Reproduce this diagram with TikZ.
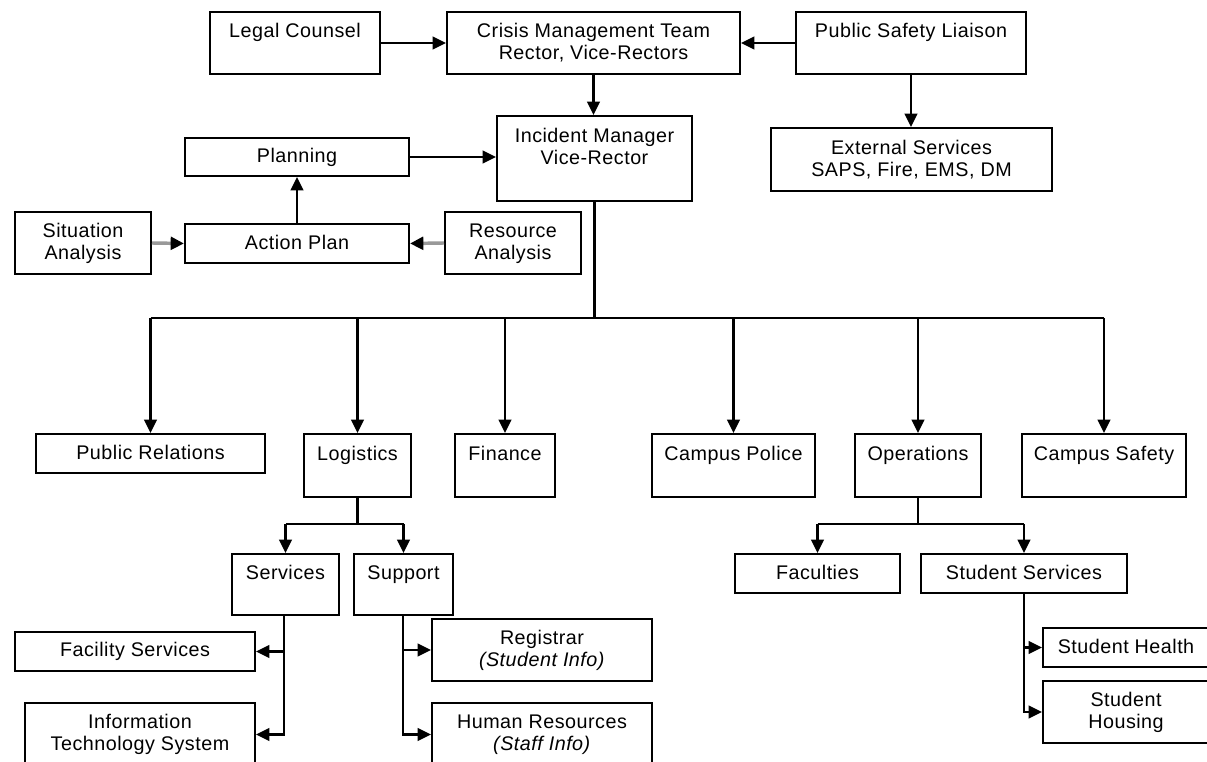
\documentclass[tikz,border=0pt]{standalone}
\usepackage{fontspec}
\setmainfont[LetterSpace=2.5]{Liberation Sans}
\usetikzlibrary{arrows.meta}
\newcommand\lstrut{\rule[-2.7pt]{0pt}{13.8pt}}
\begin{document}
\begin{tikzpicture}[x=0.75pt,y=-0.75pt,
  box/.style={draw=black, line width=1.5pt, rectangle, inner sep=0pt, align=center,
    font=\fontsize{14.8pt}{16.5pt}\selectfont},
  sz/.style 2 args={minimum width=#1*0.75pt, minimum height=#2*0.75pt},
  conn/.style={draw=black, line width=1.6pt},
  arr/.style={conn, -{Triangle[length=10pt,width=9.5pt]}},
  garr/.style={draw=black!40, line width=2.6pt, -{Triangle[length=10pt,width=9.5pt,color=black,fill=black]}}
]
\useasboundingbox (0,0) rectangle (1207,762);
\fill[white] (0,0) rectangle (1207,762);
\clip (0,0) rectangle (1207,762);

% top row
\node[box, sz={170}{62}] (legal) at (295,43) {\lstrut Legal Counsel\\\lstrut};
\node[box, sz={293}{62}] (crisis) at (593.5,43) {\lstrut Crisis Management Team\\\lstrut Rector, Vice-Rectors};
\node[box, sz={230}{62}] (psl) at (911,43) {\lstrut Public Safety Liaison\\\lstrut};
\node[box, sz={195}{85}] (incident) at (594.5,158.5) {\lstrut Incident Manager\\\lstrut Vice-Rector\\\lstrut};
\node[box, sz={281}{63}] (external) at (911.5,159.5) {\lstrut External Services\\\lstrut SAPS, Fire, EMS, DM};
\node[box, sz={224}{38}] (planning) at (297,157) {\lstrut Planning};
\node[box, sz={224}{39}] (action) at (297,243.5) {\lstrut Action Plan};
\node[box, sz={136}{62}] (situation) at (83,243) {\lstrut Situation\\\lstrut Analysis};
\node[box, sz={136}{62}] (resource) at (513,243) {\lstrut Resource\\\lstrut Analysis};

% second level
\node[box, sz={229}{39}] (pr) at (150.5,453.5) {\lstrut Public Relations};
\node[box, sz={107}{63}] (logistics) at (357.5,465.5) {\lstrut Logistics\\\lstrut};
\node[box, sz={100}{63}] (finance) at (505,465.5) {\lstrut Finance\\\lstrut};
\node[box, sz={163}{63}] (police) at (733.5,465.5) {\lstrut Campus Police\\\lstrut};
\node[box, sz={126}{63}] (operations) at (918,465.5) {\lstrut Operations\\\lstrut};
\node[box, sz={164}{63}] (safety) at (1104,465.5) {\lstrut Campus Safety\\\lstrut};

% third level
\node[box, sz={107}{61}] (services) at (285.5,584.5) {\lstrut Services\\\lstrut};
\node[box, sz={99}{61}] (support) at (403.5,584.5) {\lstrut Support\\\lstrut};
\node[box, sz={165}{39}] (faculties) at (817.5,573.5) {\lstrut Faculties};
\node[box, sz={206}{39}] (studserv) at (1024,573.5) {\lstrut Student Services};

% fourth level
\node[box, sz={240}{39}] (facility) at (135,651.5) {\lstrut Facility Services};
\node[box, sz={230}{63}] (it) at (140,734.5) {\lstrut Information\\\lstrut Technology System};
\node[box, sz={220}{62}] (registrar) at (542,650) {\lstrut Registrar\\\lstrut\textit{(Student Info)}};
\node[box, sz={220}{63}] (hr) at (542,734.5) {\lstrut Human Resources\\\lstrut\textit{(Staff Info)}};
\node[box, sz={166}{39}] (health) at (1126,647.5) {\lstrut Student Health};
\node[box, sz={166}{62}] (housing) at (1126,712) {\lstrut Student\\\lstrut Housing};

% connectors top
\draw[arr] (legal.east) -- (crisis.west);
\draw[arr] (psl.west) -- (crisis.east);
\draw[arr] (crisis.south) -- (crisis.south |- incident.north);
\draw[arr] (psl.south) -- (psl.south |- external.north);
\draw[arr] (planning.east) -- (planning.east -| incident.west);
\draw[arr] (action.north) -- (planning.south);
\draw[garr] (situation.east) -- (action.west);
\draw[garr] (resource.west) -- (action.east);

% main bus
\coordinate (bus) at (594,318);
\draw[conn] (incident.south) -- (incident.south |- bus);
\draw[conn] (bus -| pr.north) -- (bus -| safety.north);
\foreach \n in {pr,logistics,finance,police,operations,safety}
  \draw[arr] (bus -| \n.north) -- (\n.north);

% logistics branch
\coordinate (lbus) at (357.5,524);
\draw[conn] (logistics.south) -- (lbus);
\draw[conn] (lbus -| services.north) -- (lbus -| support.north);
\draw[arr] (lbus -| services.north) -- (services.north);
\draw[arr] (lbus -| support.north) -- (support.north);

% operations branch
\coordinate (obus) at (918,524);
\draw[conn] (operations.south) -- (obus);
\draw[conn] (obus -| faculties.north) -- (obus -| studserv.north);
\draw[arr] (obus -| faculties.north) -- (faculties.north);
\draw[arr] (obus -| studserv.north) -- (studserv.north);

% services children
\coordinate (sv) at (284,0);
\draw[arr] (sv |- services.south) |- (it.east);
\draw[arr] (sv |- facility.east) -- (facility.east);

% support children
\coordinate (sp) at (403,0);
\draw[arr] (sp |- support.south) |- (hr.west);
\draw[arr] (sp |- registrar.west) -- (registrar.west);

% student services children
\draw[arr] (studserv.south) |- (housing.west);
\draw[arr] (studserv.south |- health.west) -- (health.west);
\end{tikzpicture}
\end{document}
